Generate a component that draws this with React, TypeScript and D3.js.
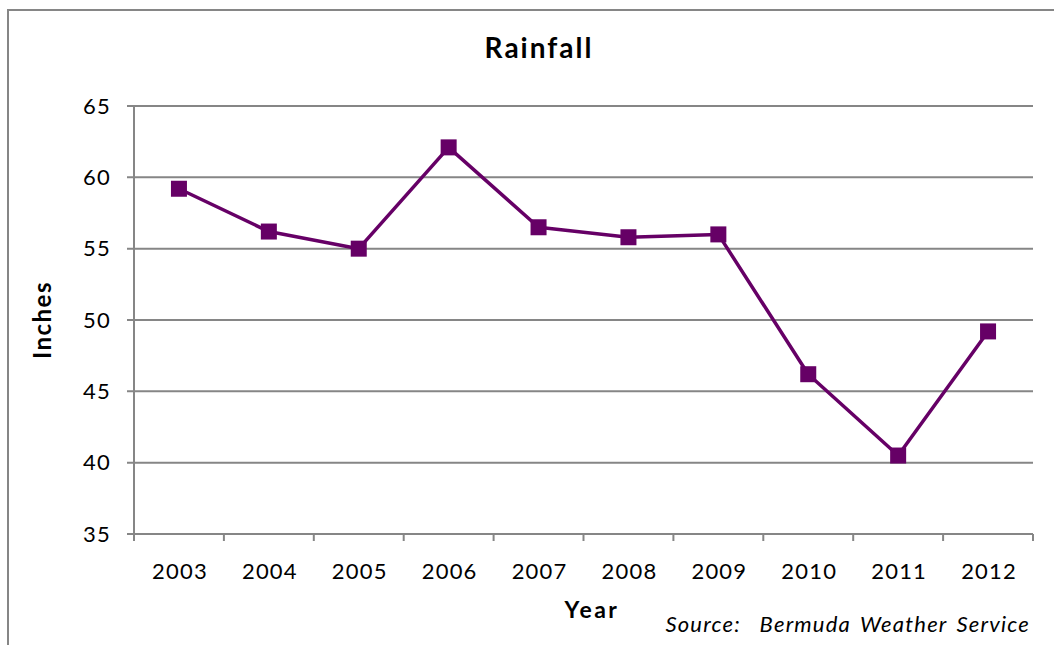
import React from "react";
import * as d3 from "d3";

const years = ["2003", "2004", "2005", "2006", "2007", "2008", "2009", "2010", "2011", "2012"];
const rainfall = [59.2, 56.2, 55.0, 62.1, 56.5, 55.8, 56.0, 46.2, 40.5, 49.2];
const yTicks = [35, 40, 45, 50, 55, 60, 65];

const W = 1054;
const H = 645;
const plot = { left: 134, right: 1033, top: 106, bottom: 534 };
const FONT = "Lato, 'Open Sans', sans-serif";
const GRID = "#868686";
const LINE = "#660066";

export default function App() {
  const x = d3.scaleBand<string>().domain(years).range([plot.left, plot.right]);
  const y = d3.scaleLinear().domain([35, 65]).range([plot.bottom, plot.top]);
  const cx = (d: string) => (x(d) ?? 0) + x.bandwidth() / 2;
  const line = d3
    .line<number>()
    .x((_, i) => cx(years[i]))
    .y((d) => y(d));
  const ms = 16;

  return (
    <svg
      width={W}
      height={H}
      style={{ position: "absolute", left: 0, top: 0, background: "#fff" }}
      fontFamily={FONT}
    >
      <rect x={0} y={0} width={W} height={H} fill="#fff" />
      {/* outer chart border */}
      <rect x={8} y={10} width={W + 20} height={H + 20} fill="none" stroke={GRID} strokeWidth={2} />
      {/* gridlines */}
      {yTicks.map((t) => (
        <g key={t}>
          <line x1={plot.left - 7} x2={plot.right} y1={y(t)} y2={y(t)} stroke={GRID} strokeWidth={2} />
          <text x={111} y={y(t)} dy="0.35em" textAnchor="end" fontSize={22} letterSpacing={1.2} fill="#000">
            {t}
          </text>
        </g>
      ))}
      {/* y axis line */}
      <line x1={plot.left} x2={plot.left} y1={plot.top} y2={plot.bottom} stroke={GRID} strokeWidth={2} />
      {/* x ticks */}
      {years.map((yr) => (
        <line
          key={"t" + yr}
          x1={x(yr)}
          x2={x(yr)}
          y1={plot.bottom}
          y2={plot.bottom + 7}
          stroke={GRID}
          strokeWidth={2}
        />
      ))}
      <line x1={plot.right} x2={plot.right} y1={plot.bottom} y2={plot.bottom + 7} stroke={GRID} strokeWidth={2} />
      {years.map((yr) => (
        <text key={"l" + yr} x={cx(yr) + 1} y={579} textAnchor="middle" fontSize={22} letterSpacing={1.2} fill="#000">
          {yr}
        </text>
      ))}
      {/* series */}
      <path d={line(rainfall) ?? ""} fill="none" stroke={LINE} strokeWidth={3.5} strokeLinejoin="round" />
      {rainfall.map((v, i) => (
        <rect
          key={"m" + i}
          x={cx(years[i]) - ms / 2}
          y={y(v) - ms / 2}
          width={ms}
          height={ms}
          fill={LINE}
        />
      ))}
      {/* titles */}
      <text x={539} y={58} textAnchor="middle" fontSize={28} fontWeight="bold" letterSpacing={2} fill="#000">
        Rainfall
      </text>
      <text
        transform={`translate(51,${(plot.top + plot.bottom) / 2}) rotate(-90)`}
        textAnchor="middle"
        fontSize={24}
        fontWeight="bold"
        letterSpacing={1.5}
        fill="#000"
      >
        Inches
      </text>
      <text x={592} y={618} textAnchor="middle" fontSize={23} fontWeight="bold" letterSpacing={2.5} fill="#000">
        Year
      </text>
      <text
        x={1030}
        y={632}
        textAnchor="end"
        fontSize={22}
        fontStyle="italic"
        fill="#000"
        letterSpacing={1.2}
        wordSpacing={3}
        style={{ whiteSpace: "pre" }}
      >
        {"Source:  Bermuda Weather Service"}
      </text>
    </svg>
  );
}
